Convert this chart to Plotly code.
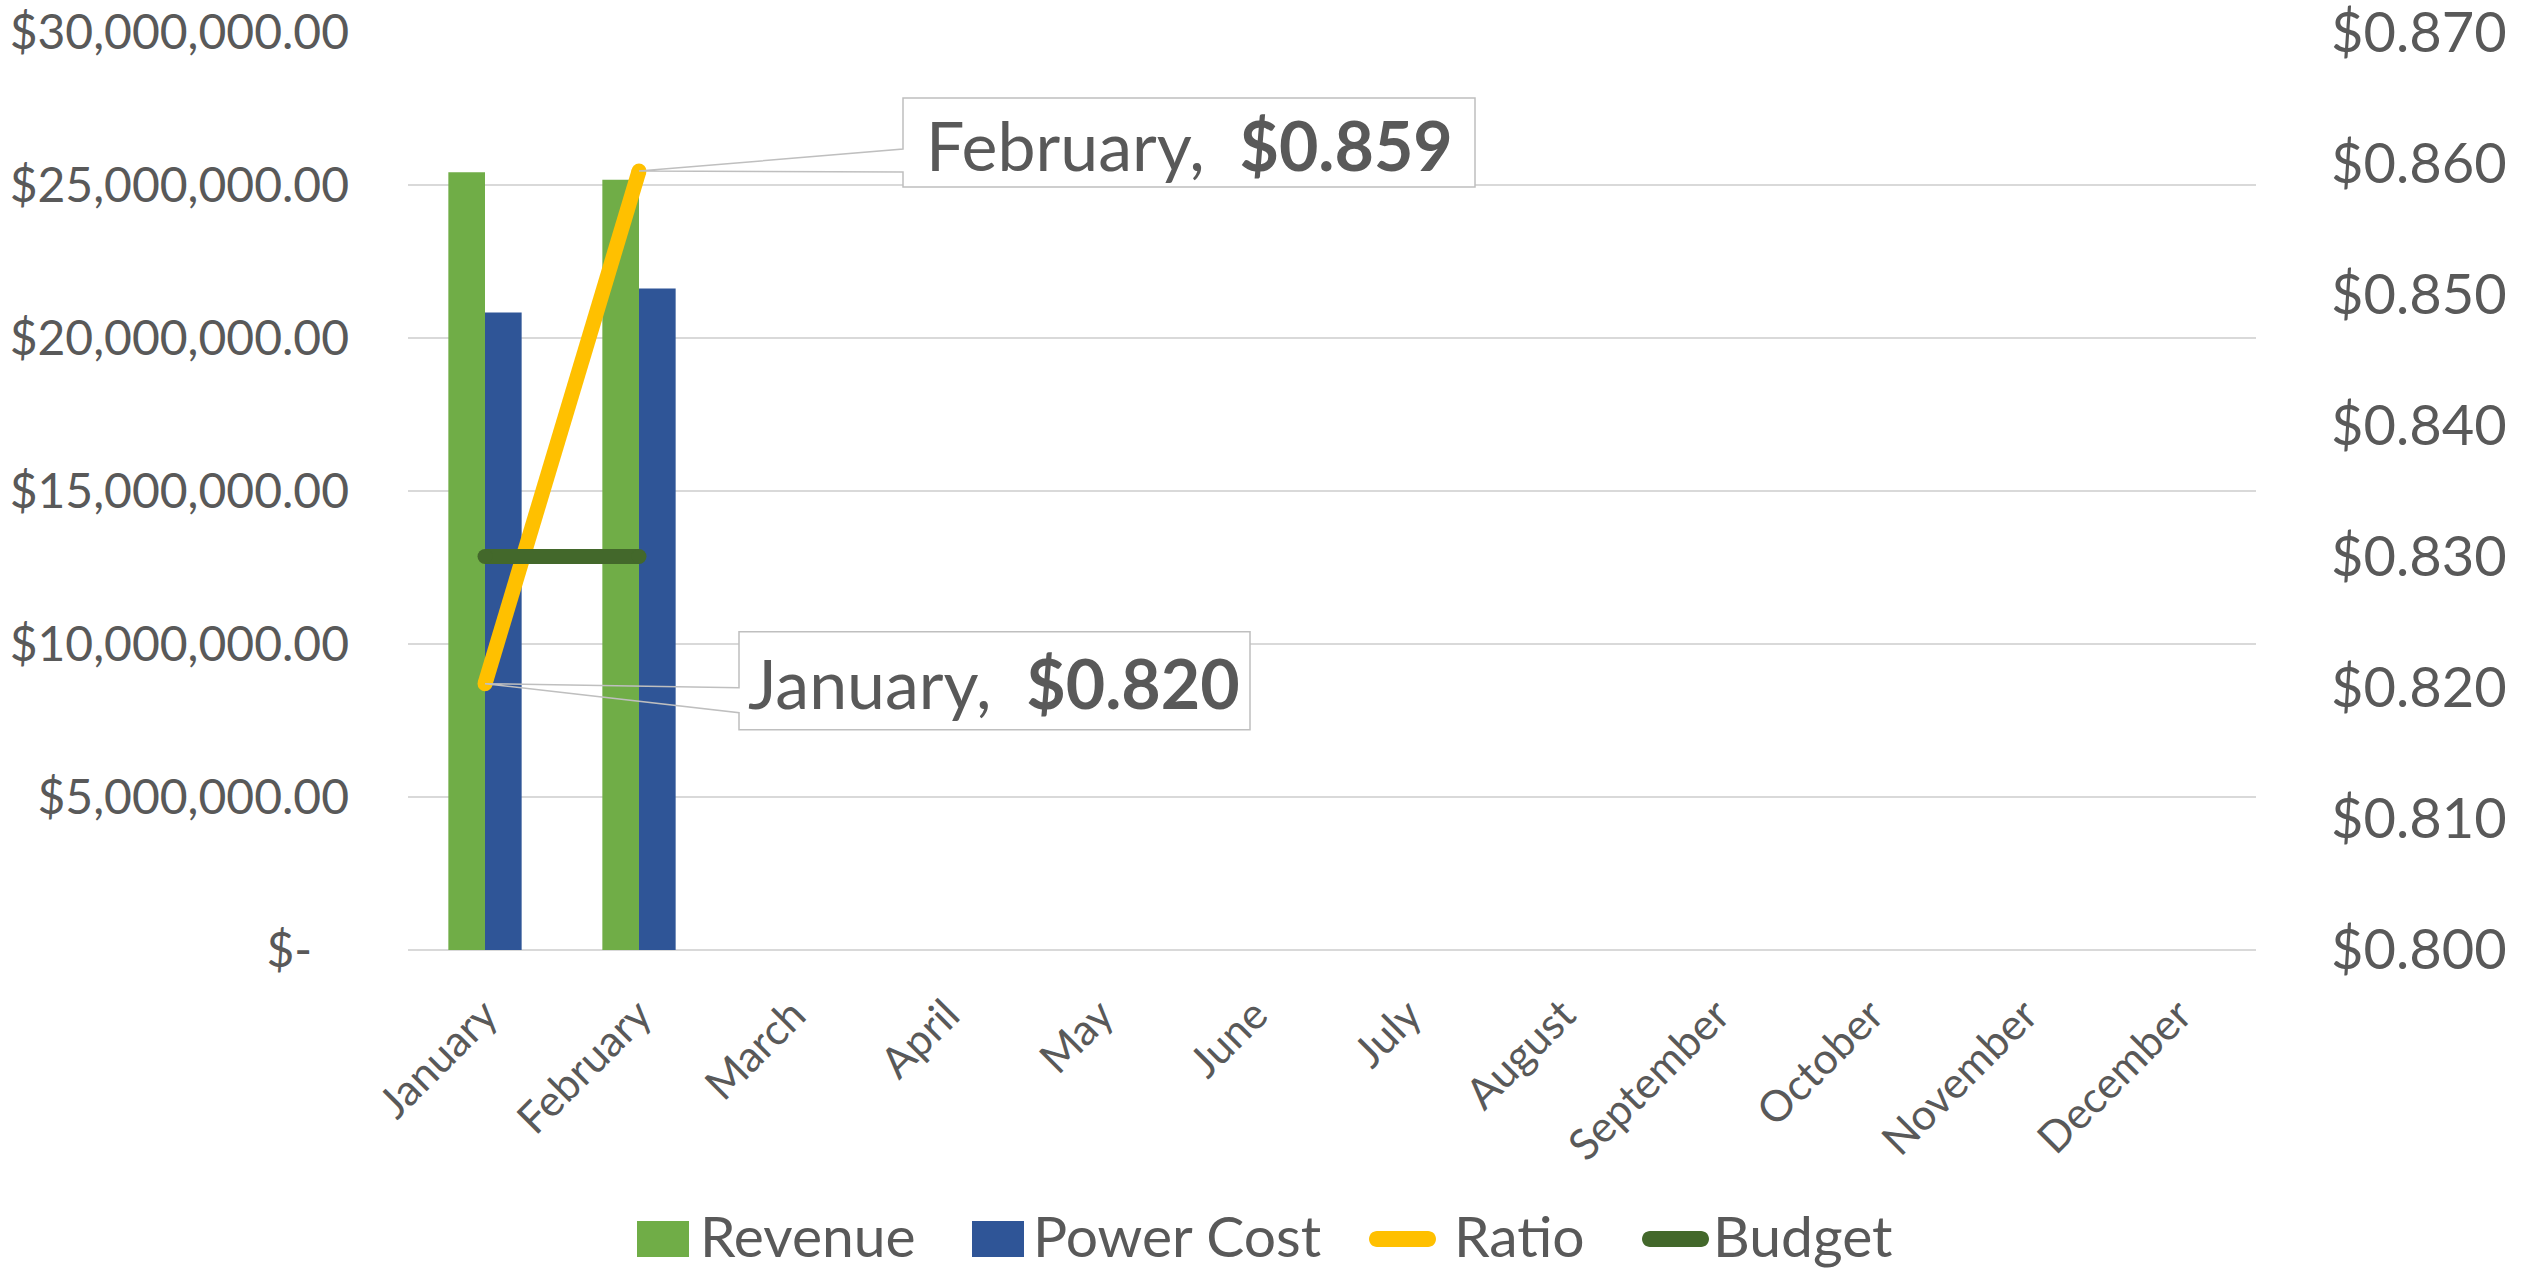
import plotly.graph_objects as go

# ---------------- data ----------------
months = ["January", "February", "March", "April", "May", "June", "July",
          "August", "September", "October", "November", "December"]
revenue = [25.42e6, 25.17e6, None, None, None, None, None, None, None, None, None, None]
power_cost = [20.83e6, 21.62e6, None, None, None, None, None, None, None, None, None, None]
ratio = [0.8203, 0.8594, None, None, None, None, None, None, None, None, None, None]
budget = [0.83, 0.83, None, None, None, None, None, None, None, None, None, None]

series_names = ["Revenue", "Power Cost", "Ratio", "Budget"]

left_tickvals = [0, 5e6, 10e6, 15e6, 20e6, 25e6, 30e6]
left_ticktext = ["$-\u00a0\u00a0\u00a0", "$5,000,000.00", "$10,000,000.00", "$15,000,000.00",
                 "$20,000,000.00", "$25,000,000.00", "$30,000,000.00"]
right_tickvals = [0.80, 0.81, 0.82, 0.83, 0.84, 0.85, 0.86, 0.87]
right_ticktext = ["$0.800", "$0.810", "$0.820", "$0.830", "$0.840", "$0.850", "$0.860", "$0.870"]

# ---------------- style ----------------
GREEN = "#70AD47"
BLUE = "#2F5597"
YELLOW = "#FFC000"
DKGREEN = "#43682B"
TXT = "#595959"
GRID = "#D9D9D9"
EDGE = "#BFBFBF"
FONT = "Lato"

# page geometry (body margin removed via post_script so the figure fills the window)
W, H = 2522, 1270
PLOT_X0, PLOT_X1, PLOT_Y0, PLOT_Y1 = 408, 2256, 32, 950
L, T = PLOT_X0, PLOT_Y0
R, B = W - PLOT_X1, H - PLOT_Y1
PW, PH = PLOT_X1 - PLOT_X0, PLOT_Y1 - PLOT_Y0

fig = go.Figure()
fig.add_trace(go.Bar(x=months, y=revenue, name=series_names[0], marker=dict(color=GREEN, line=dict(width=0))))
fig.add_trace(go.Bar(x=months, y=power_cost, name=series_names[1], marker=dict(color=BLUE, line=dict(width=0))))
fig.add_trace(go.Scatter(x=months, y=ratio, name=series_names[2], yaxis="y2", mode="lines+markers",
                         line=dict(color=YELLOW, width=15), marker=dict(color=YELLOW, size=15)))
fig.add_trace(go.Scatter(x=months, y=budget, name=series_names[3], yaxis="y2", mode="lines+markers",
                         line=dict(color=DKGREEN, width=15), marker=dict(color=DKGREEN, size=15)))

shapes = []
annotations = []


def callout(i, left, right, top, bottom, wtop, wbot, xs, ys):
    cat, val = months[i], ratio[i]
    base = dict(type="path", xref="x", yref="y2", xsizemode="pixel", ysizemode="pixel",
                xanchor=cat, yanchor=val, layer="above")
    shapes.append(dict(base, path=f"M{left},{top} L{right},{top} L{right},{bottom} L{left},{bottom} Z",
                       fillcolor="white", line=dict(width=0)))
    shapes.append(dict(base, path=(f"M0,0 L{left},{wtop} L{left},{top} L{right},{top} "
                                   f"L{right},{bottom} L{left},{bottom} L{left},{wbot} Z"),
                       fillcolor="rgba(0,0,0,0)", line=dict(color=EDGE, width=1.5)))
    annotations.append(dict(xref="x", yref="y2", x=cat, y=val, xshift=xs, yshift=ys, showarrow=False,
                            text=f"{cat},\u00a0 <b>${val:.3f}</b>", xanchor="center", yanchor="middle",
                            font=dict(family=FONT, size=68, color=TXT)))


callout(0, 254, 765, 52, -46, -4, -29, 509, 1)
callout(1, 264, 836, 73, -16, 22, -1, 550, 27)


# ---------------- custom legend ----------------
def px(x):
    return (x - PLOT_X0) / PW


def py(y):
    return (PLOT_Y1 - y) / PH


LEG_Y = 1239
LEG_TEXT_Y = 1235
swatches = [(637, 689, GREEN, "rect"), (972, 1024, BLUE, "rect"),
            (1369, 1436, YELLOW, "line"), (1642, 1709, DKGREEN, "line")]
text_x = [698, 1031, 1452, 1711]
for (x0, x1, col, kind), tx, name in zip(swatches, text_x, series_names):
    if kind == "rect":
        shapes.append(dict(type="rect", xref="paper", yref="paper", x0=px(x0), x1=px(x1),
                           y0=py(LEG_Y + 18), y1=py(LEG_Y - 18), fillcolor=col, line=dict(width=0)))
    else:
        r = 8
        k = 0.5523 * r
        pts = (f"M{px(x0 + r)},{py(LEG_Y - r)} L{px(x1 - r)},{py(LEG_Y - r)} "
               f"C{px(x1 - r + k)},{py(LEG_Y - r)} {px(x1)},{py(LEG_Y - k)} {px(x1)},{py(LEG_Y)} "
               f"C{px(x1)},{py(LEG_Y + k)} {px(x1 - r + k)},{py(LEG_Y + r)} {px(x1 - r)},{py(LEG_Y + r)} "
               f"L{px(x0 + r)},{py(LEG_Y + r)} "
               f"C{px(x0 + r - k)},{py(LEG_Y + r)} {px(x0)},{py(LEG_Y + k)} {px(x0)},{py(LEG_Y)} "
               f"C{px(x0)},{py(LEG_Y - k)} {px(x0 + r - k)},{py(LEG_Y - r)} {px(x0 + r)},{py(LEG_Y - r)} Z")
        shapes.append(dict(type="path", xref="paper", yref="paper", path=pts, fillcolor=col, line=dict(width=0)))
    annotations.append(dict(xref="paper", yref="paper", x=px(tx), y=py(LEG_TEXT_Y), xanchor="left",
                            yanchor="middle", showarrow=False, text=name,
                            font=dict(family=FONT, size=57, color=TXT)))

fig.update_layout(
    width=W, height=H,
    margin=dict(l=L, r=R, t=T, b=B, autoexpand=False),
    paper_bgcolor="white", plot_bgcolor="white",
    barmode="group", bargap=0.524, bargroupgap=0,
    showlegend=False,
    font=dict(family=FONT, color=TXT),
    xaxis=dict(type="category", range=[-0.5, 11.5], showgrid=False, showline=False, zeroline=False,
               tickangle=-45, ticks="", ticklabelstandoff=30, ticklabeloverflow="allow",
               tickfont=dict(family=FONT, size=43, color=TXT)),
    yaxis=dict(range=[0, 30e6], tickvals=left_tickvals, ticktext=left_ticktext, showgrid=True,
               gridcolor=GRID, gridwidth=2, zeroline=True, zerolinecolor=GRID, zerolinewidth=2,
               showline=False, ticks="", ticklabelstandoff=58, ticklabeloverflow="allow",
               tickfont=dict(family=FONT, size=48, color=TXT)),
    yaxis2=dict(range=[0.79999, 0.87001], tickvals=right_tickvals, ticktext=right_ticktext, overlaying="y",
                side="right", showgrid=False, zeroline=False, showline=False, ticks="",
                ticklabelstandoff=74, ticklabeloverflow="allow",
                tickfont=dict(family=FONT, size=56, color=TXT)),
    shapes=shapes,
    annotations=annotations,
)

fig.write_html("out.html", config={"displayModeBar": False},
               post_script="document.body.style.margin='0';document.body.style.overflow='hidden';")
